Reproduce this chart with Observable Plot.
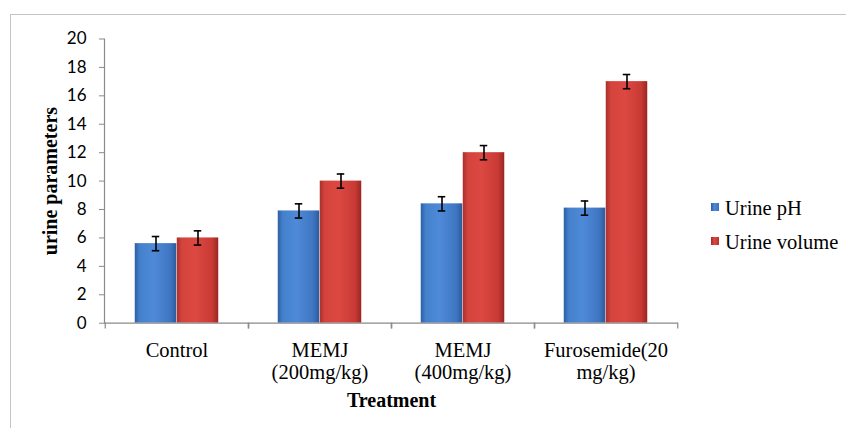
<!DOCTYPE html>
<html>
<head>
<meta charset="utf-8">
<script src="https://cdn.jsdelivr.net/npm/d3@7"></script>
<script src="https://cdn.jsdelivr.net/npm/@observablehq/plot@0.6"></script>
<style>
  html, body { margin: 0; padding: 0; background: #fff; }
  #wrap { position: relative; width: 846px; height: 428px; overflow: hidden; }
  #border { position: absolute; left: 10px; top: 14px; width: 900px; height: 500px;
            border-top: 1.5px solid #c4c4c4; border-left: 1.5px solid #c4c4c4; pointer-events: none; }
  .leg { position: absolute; left: 725px; font-size: 20.5px; font-family: "Liberation Serif", "Times New Roman", Times, "DejaVu Serif", serif; line-height: 20px; color: #000; white-space: nowrap; }
  .sw { position: absolute; left: 711px; width: 8px; height: 8px; }
</style>
</head>
<body>
<div id="wrap">
  <div id="chart"></div>
  <div id="border"></div>
  <div class="sw" style="top:203px;background:linear-gradient(90deg,#2c5fa6,#4f8ad8 45%,#3a70bd);"></div>
  <div class="leg" style="top:198px;">Urine pH</div>
  <div class="sw" style="top:237px;background:linear-gradient(90deg,#a52a26,#dc4741 45%,#b8302c);"></div>
  <div class="leg" style="top:232px;">Urine volume</div>
</div>
<script>
const categories = ["Control", "MEMJ 200", "MEMJ 400", "Furosemide 20"];
const tickLabels = ["Control", "MEMJ\n(200mg/kg)", "MEMJ\n(400mg/kg)", "Furosemide(20\nmg/kg)"];
const urinePH = [5.6, 7.9, 8.4, 8.1];
const urinePHErr = [0.5, 0.5, 0.5, 0.5];
const urineVolume = [6.0, 10.0, 12.0, 17.0];
const urineVolumeErr = [0.5, 0.5, 0.5, 0.5];
const yTicks = [0, 2, 4, 6, 8, 10, 12, 14, 16, 18, 20];

const ph = categories.map((c, i) => ({cat: c, v: urinePH[i], e: urinePHErr[i]}));
const vol = categories.map((c, i) => ({cat: c, v: urineVolume[i], e: urineVolumeErr[i]}));
const labelOf = new Map(categories.map((c, i) => [c, tickLabels[i]]));

const axisGray = "#8a8a8a";
const serif = "'Liberation Serif', 'Times New Roman', Times, 'DejaVu Serif', serif";

const chart = Plot.plot({
  width: 846,
  height: 428,
  marginLeft: 104,
  marginRight: 168,
  marginTop: 38.5,
  marginBottom: 105.3,
  style: {background: "transparent", overflow: "visible"},
  x: {domain: categories, padding: 0, axis: null},
  y: {domain: [0, 20], axis: null},
  marks: [
    Plot.frame({anchor: "left", stroke: axisGray, strokeWidth: 1.2}),
    Plot.axisY({ticks: yTicks, tickSize: 5, tickPadding: 13, stroke: axisGray, fill: "#000",
      fontSize: 17, fontFamily: "Lato, sans-serif", label: null, tickFormat: d => String(d)}),
    Plot.axisX({tickSize: 0, tickPadding: 18, fill: "#000", fontSize: 20.5, fontFamily: serif,
      lineHeight: 1.08, label: null, tickFormat: d => labelOf.get(d)}),
    Plot.barY(ph, {x: "cat", y: "v", fill: "url(#gradBlue)", insetLeft: 29.75, insetRight: 71.75}),
    Plot.barY(vol, {x: "cat", y: "v", fill: "url(#gradRed)", insetLeft: 71.75, insetRight: 29.75}),
    Plot.ruleY([0], {stroke: axisGray, strokeWidth: 1.2}),
    Plot.ruleX(categories, {x: d => d, y1: 0, y2: -0.4, dx: -71.75, stroke: axisGray, strokeWidth: 1.2}),
    Plot.ruleX(categories, {x: d => d, y1: 0, y2: -0.4, dx: 71.75, stroke: axisGray, strokeWidth: 1.2}),
    Plot.ruleX(ph, {x: "cat", y1: d => d.v - d.e, y2: d => d.v + d.e, dx: -21, stroke: "#000", strokeWidth: 1.6}),
    Plot.ruleX(vol, {x: "cat", y1: d => d.v - d.e, y2: d => d.v + d.e, dx: 21, stroke: "#000", strokeWidth: 1.6}),
    Plot.tickY(ph, {x: "cat", y: d => d.v + d.e, insetLeft: 46.75, insetRight: 88.75, stroke: "#000", strokeWidth: 1.6}),
    Plot.tickY(ph, {x: "cat", y: d => d.v - d.e, insetLeft: 46.75, insetRight: 88.75, stroke: "#000", strokeWidth: 1.6}),
    Plot.tickY(vol, {x: "cat", y: d => d.v + d.e, insetLeft: 88.75, insetRight: 46.75, stroke: "#000", strokeWidth: 1.6}),
    Plot.tickY(vol, {x: "cat", y: d => d.v - d.e, insetLeft: 88.75, insetRight: 46.75, stroke: "#000", strokeWidth: 1.6}),
    Plot.text(["urine parameters"], {frameAnchor: "left", rotate: -90, dx: -54, text: d => d, textAnchor: "middle",
      fontSize: 20, fontWeight: "bold", fontFamily: serif, fill: "#000", lineAnchor: "middle"}),
    Plot.text(["Treatment"], {frameAnchor: "bottom", dy: 77, text: d => d, textAnchor: "middle",
      fontSize: 20, fontWeight: "bold", fontFamily: serif, fill: "#000", lineAnchor: "middle"})
  ]
});

const ns = "http://www.w3.org/2000/svg";
const defs = document.createElementNS(ns, "defs");
function grad(id, stops) {
  const g = document.createElementNS(ns, "linearGradient");
  g.setAttribute("id", id);
  g.setAttribute("x1", "0"); g.setAttribute("x2", "1"); g.setAttribute("y1", "0"); g.setAttribute("y2", "0");
  for (const [o, c] of stops) {
    const s = document.createElementNS(ns, "stop");
    s.setAttribute("offset", o); s.setAttribute("stop-color", c);
    g.appendChild(s);
  }
  defs.appendChild(g);
}
grad("gradBlue", [["0", "#2d5fa5"], ["0.12", "#4580cc"], ["0.45", "#4f8ad8"], ["0.85", "#3f76c2"], ["1", "#2b5a9c"]]);
grad("gradRed", [["0", "#a8302c"], ["0.12", "#d4433d"], ["0.45", "#dc4842"], ["0.85", "#c93a35"], ["1", "#9a2622"]]);
chart.insertBefore(defs, chart.firstChild);

document.getElementById("chart").appendChild(chart);
</script>
</body>
</html>
